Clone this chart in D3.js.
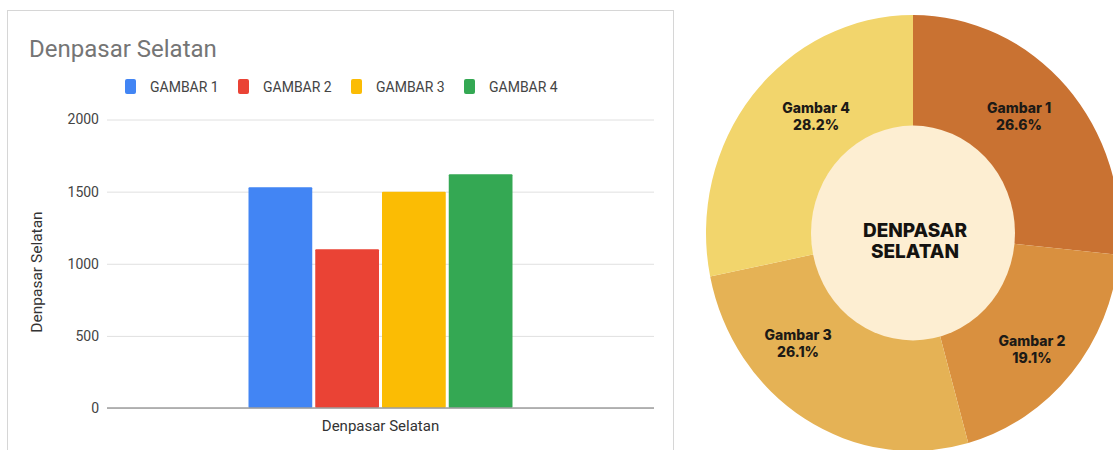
<!DOCTYPE html>
<html>
<head>
<meta charset="utf-8">
<script src="https://cdn.jsdelivr.net/npm/d3@7"></script>
<style>
  html, body { margin: 0; padding: 0; background: #ffffff; }
  svg { display: block; }
</style>
</head>
<body>
<svg id="chart" width="1113" height="450"></svg>
<script>
// ---------------- DATA ----------------
const chartTitle = "Denpasar Selatan";
const categories = ["Denpasar Selatan"];
const seriesNames = ["GAMBAR 1", "GAMBAR 2", "GAMBAR 3", "GAMBAR 4"];
const seriesValues = [1530, 1100, 1500, 1620];
const yTicks = [0, 500, 1000, 1500, 2000];
const yAxisTitle = "Denpasar Selatan";

const pieLabels = ["Gambar 1", "Gambar 2", "Gambar 3", "Gambar 4"];
const piePercents = [26.6, 19.1, 26.1, 28.2];
const centerLabel = ["DENPASAR", "SELATAN"];

// ---------------- STYLE / LAYOUT ----------------
const barColors = ["#4285F4", "#EA4335", "#FBBC04", "#34A853"];
const pieColors = ["#c97232", "#d9903f", "#e5b255", "#f2d56c"];
const centerFill = "#fdeed2";
const labelNudgeDeg = [-4, 3, 16, 9.5];   // manual label placement tweak
const labelRadius = [153, 163, 156, 147];

const svg = d3.select("#chart");
svg.append("rect").attr("width", 1113).attr("height", 450).attr("fill", "#fff");

// ---------- Left panel (bar chart) ----------
const panel = svg.append("g");
panel.append("rect")
  .attr("x", 7.5).attr("y", 10.5).attr("width", 666).attr("height", 470)
  .attr("fill", "#fff").attr("stroke", "#d6d6d6").attr("stroke-width", 1);

panel.append("text")
  .attr("x", 29).attr("y", 57)
  .attr("font-family", "Roboto, Arial, sans-serif")
  .attr("font-size", 24)
  .attr("fill", "#757575")
  .text(chartTitle);

// Legend
const legend = panel.append("g");
seriesNames.forEach((name, i) => {
  const gx = 125 + i * 113;
  legend.append("rect")
    .attr("x", gx).attr("y", 79).attr("width", 11).attr("height", 15)
    .attr("rx", 2).attr("fill", barColors[i]);
  legend.append("text")
    .attr("x", gx + 25).attr("y", 92)
    .attr("font-family", "Roboto, Arial, sans-serif")
    .attr("font-size", 14)
    .attr("fill", "#444")
    .text(name);
});

const plotLeft = 107, plotRight = 654;
const y = d3.scaleLinear().domain([0, 2000]).range([408, 119.5]);
const x0 = d3.scaleBand().domain(categories).range([plotLeft, plotRight])
  .paddingInner(0).paddingOuter(0.536);
const x1 = d3.scaleBand().domain(seriesNames).range([0, x0.bandwidth()])
  .paddingInner(0.045).paddingOuter(0);

// Grid + y axis
const yAxis = d3.axisLeft(y).tickValues(yTicks)
  .tickSize(-(plotRight - plotLeft)).tickPadding(8)
  .tickFormat(d3.format("d"));
const gy = panel.append("g")
  .attr("transform", `translate(${plotLeft},0)`)
  .call(yAxis);
gy.select(".domain").remove();
gy.selectAll(".tick line").attr("stroke", "#e0e0e0").attr("stroke-width", 1);
gy.selectAll(".tick text")
  .attr("font-family", "Roboto, Arial, sans-serif")
  .attr("font-size", 14)
  .attr("fill", "#444");

// Bars
const barG = panel.append("g");
categories.forEach(cat => {
  barG.selectAll(null)
    .data(seriesValues)
    .enter().append("rect")
    .attr("x", (d, i) => x0(cat) + x1(seriesNames[i]))
    .attr("y", d => y(d))
    .attr("width", x1.bandwidth())
    .attr("height", d => y(0) - y(d))
    .attr("rx", 1)
    .attr("fill", (d, i) => barColors[i]);
});

// Baseline
panel.append("line")
  .attr("x1", plotLeft).attr("x2", plotRight)
  .attr("y1", y(0)).attr("y2", y(0))
  .attr("stroke", "#9e9e9e").attr("stroke-width", 1.5);

// X label
panel.append("text")
  .attr("x", x0(categories[0]) + x0.bandwidth() / 2)
  .attr("y", 431)
  .attr("text-anchor", "middle")
  .attr("font-family", "Roboto, Arial, sans-serif")
  .attr("font-size", 15)
  .attr("fill", "#333")
  .text(categories[0]);

// Y title
panel.append("text")
  .attr("transform", "translate(42,272) rotate(-90)")
  .attr("text-anchor", "middle")
  .attr("font-family", "Roboto, Arial, sans-serif")
  .attr("font-size", 15.5)
  .attr("fill", "#333")
  .text(yAxisTitle);

// ---------- Right panel (donut) ----------
const cx = 913, cy = 233;
const outerR = 207, innerR = 102;
const stretch = 1.053;
const donut = svg.append("g")
  .attr("transform", `translate(${cx},${cy}) scale(1,${stretch})`);

const pie = d3.pie().sort(null).value(d => d).startAngle(0).endAngle(2 * Math.PI);
const arcs = pie(piePercents);
const arc = d3.arc().innerRadius(innerR - 2).outerRadius(outerR);

donut.selectAll("path.slice")
  .data(arcs)
  .enter().append("path")
  .attr("class", "slice")
  .attr("d", arc)
  .attr("fill", (d, i) => pieColors[i]);

donut.append("circle").attr("r", innerR).attr("fill", centerFill);

// Labels (drawn unscaled for crisp text)
const labelG = svg.append("g").attr("transform", `translate(${cx},${cy})`);
arcs.forEach((a, i) => {
  const mid = (a.startAngle + a.endAngle) / 2 + labelNudgeDeg[i] * Math.PI / 180;
  const lx = Math.sin(mid) * labelRadius[i];
  const ly = -Math.cos(mid) * labelRadius[i] * stretch;
  const t = labelG.append("text")
    .attr("text-anchor", "middle")
    .attr("font-family", "Inter, 'Noto Sans', sans-serif")
    .attr("font-weight", 800)
    .attr("font-size", 14)
    .attr("fill", "#1d1a16");
  t.append("tspan").attr("x", lx).attr("y", ly - 4).text(pieLabels[i]);
  t.append("tspan").attr("x", lx).attr("y", ly + 13).text(d3.format(".1f")(a.value) + "%");
});

const ct = labelG.append("text")
  .attr("text-anchor", "middle")
  .attr("font-family", "Inter, 'Noto Sans', sans-serif")
  .attr("font-weight", 800)
  .attr("font-size", 19)
  .attr("fill", "#141210");
ct.append("tspan").attr("x", 2).attr("y", 4).text(centerLabel[0]);
ct.append("tspan").attr("x", 2).attr("y", 25).text(centerLabel[1]);
</script>
</body>
</html>
